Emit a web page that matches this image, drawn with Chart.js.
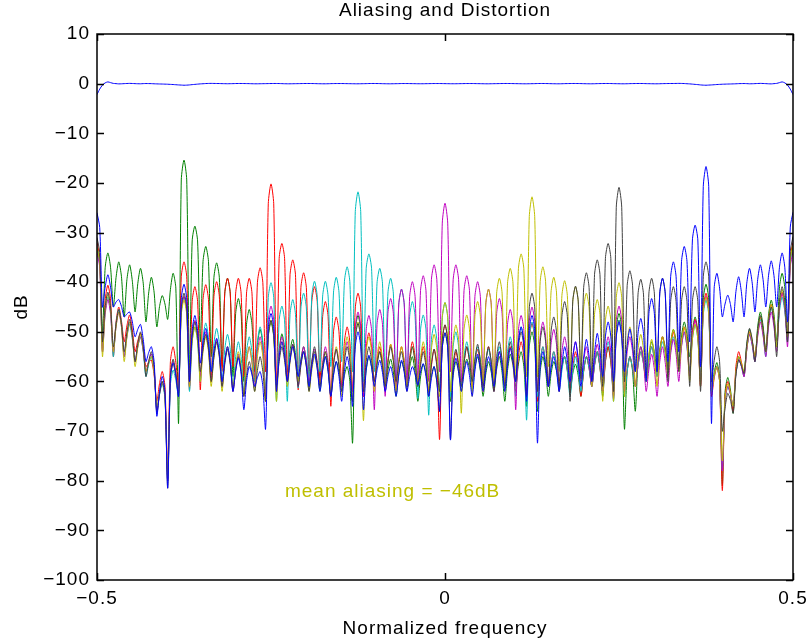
<!DOCTYPE html>
<html>
<head>
<meta charset="utf-8">
<title>Aliasing and Distortion</title>
<script src="https://cdn.jsdelivr.net/npm/chart.js@4.4.0/dist/chart.umd.min.js"></script>
<style>
  html, body { margin: 0; padding: 0; background: #fff; }
  #wrap { width: 810px; height: 644px; }
</style>
</head>
<body>
<div id="wrap"><canvas id="chart"></canvas></div>
<script>
// normalized frequency grid, -0.5 .. 0.5 in 1/256 steps
const freq = [
  -0.5, -0.49609, -0.49219, -0.48828, -0.48438, -0.48047, -0.47656, -0.47266, -0.46875, -0.46484, -0.46094, -0.45703, -0.45313, -0.44922, -0.44531, -0.44141,
  -0.4375, -0.43359, -0.42969, -0.42578, -0.42188, -0.41797, -0.41406, -0.41016, -0.40625, -0.40234, -0.39844, -0.39453, -0.39063, -0.38672, -0.38281, -0.37891,
  -0.375, -0.37109, -0.36719, -0.36328, -0.35938, -0.35547, -0.35156, -0.34766, -0.34375, -0.33984, -0.33594, -0.33203, -0.32813, -0.32422, -0.32031, -0.31641,
  -0.3125, -0.30859, -0.30469, -0.30078, -0.29688, -0.29297, -0.28906, -0.28516, -0.28125, -0.27734, -0.27344, -0.26953, -0.26563, -0.26172, -0.25781, -0.25391,
  -0.25, -0.24609, -0.24219, -0.23828, -0.23438, -0.23047, -0.22656, -0.22266, -0.21875, -0.21484, -0.21094, -0.20703, -0.20313, -0.19922, -0.19531, -0.19141,
  -0.1875, -0.18359, -0.17969, -0.17578, -0.17188, -0.16797, -0.16406, -0.16016, -0.15625, -0.15234, -0.14844, -0.14453, -0.14063, -0.13672, -0.13281, -0.12891,
  -0.125, -0.12109, -0.11719, -0.11328, -0.10938, -0.10547, -0.10156, -0.09766, -0.09375, -0.08984, -0.08594, -0.08203, -0.07813, -0.07422, -0.07031, -0.06641,
  -0.0625, -0.05859, -0.05469, -0.05078, -0.04688, -0.04297, -0.03906, -0.03516, -0.03125, -0.02734, -0.02344, -0.01953, -0.01563, -0.01172, -0.00781, -0.00391,
  0, 0.00391, 0.00781, 0.01172, 0.01563, 0.01953, 0.02344, 0.02734, 0.03125, 0.03516, 0.03906, 0.04297, 0.04688, 0.05078, 0.05469, 0.05859,
  0.0625, 0.06641, 0.07031, 0.07422, 0.07813, 0.08203, 0.08594, 0.08984, 0.09375, 0.09766, 0.10156, 0.10547, 0.10938, 0.11328, 0.11719, 0.12109,
  0.125, 0.12891, 0.13281, 0.13672, 0.14063, 0.14453, 0.14844, 0.15234, 0.15625, 0.16016, 0.16406, 0.16797, 0.17188, 0.17578, 0.17969, 0.18359,
  0.1875, 0.19141, 0.19531, 0.19922, 0.20313, 0.20703, 0.21094, 0.21484, 0.21875, 0.22266, 0.22656, 0.23047, 0.23438, 0.23828, 0.24219, 0.24609,
  0.25, 0.25391, 0.25781, 0.26172, 0.26563, 0.26953, 0.27344, 0.27734, 0.28125, 0.28516, 0.28906, 0.29297, 0.29688, 0.30078, 0.30469, 0.30859,
  0.3125, 0.31641, 0.32031, 0.32422, 0.32813, 0.33203, 0.33594, 0.33984, 0.34375, 0.34766, 0.35156, 0.35547, 0.35938, 0.36328, 0.36719, 0.37109,
  0.375, 0.37891, 0.38281, 0.38672, 0.39063, 0.39453, 0.39844, 0.40234, 0.40625, 0.41016, 0.41406, 0.41797, 0.42188, 0.42578, 0.42969, 0.43359,
  0.4375, 0.44141, 0.44531, 0.44922, 0.45313, 0.45703, 0.46094, 0.46484, 0.46875, 0.47266, 0.47656, 0.48047, 0.48438, 0.48828, 0.49219, 0.49609,
  0.5
];

// overall response (dB)
const passband = [
  -2.2, -1.1, -0.3, 0.15, 0.35, 0.2, 0.05, 0, -0.05, -0.03, 0, 0.03, 0.05, 0.03, 0, -0.02, -0.03, 0, 0.02, 0.01, 0, -0.03, -0.05, -0.07, -0.08, -0.1, -0.12, -0.15, -0.18, -0.22, -0.26, -0.29,
  -0.32, -0.3, -0.26, -0.2, -0.15, -0.1, -0.05, -0.02, 0.02, 0.04, 0.05, 0.04, 0.03, 0.02, 0, -0.01, -0.02, -0.01, 0, 0.02, 0.03, 0.03, 0.02, 0.01, 0, -0.02, -0.03, -0.03, -0.02, -0.01, 0, 0.01,
  0.02, 0.03, 0.03, 0.02, 0, -0.02, -0.03, -0.03, -0.02, -0.01, 0, 0.01, 0.02, 0.03, 0.03, 0.02, 0.01, -0.01, -0.02, -0.03, -0.03, -0.02, 0, 0.01, 0.02, 0.02, 0.02, 0.01, 0, -0.01, -0.02, -0.03,
  -0.03, -0.02, -0.01, 0, 0.02, 0.03, 0.03, 0.02, 0.01, -0.01, -0.02, -0.03, -0.03, -0.02, -0.01, 0, 0.02, 0.02, 0.02, 0.01, 0, -0.01, -0.02, -0.02, -0.02, -0.01, 0, 0.01, 0.02, 0.02, 0.02, 0.01,
  0, -0.01, -0.02, -0.02, -0.02, -0.01, 0, 0.01, 0.02, 0.02, 0.02, 0.01, 0, -0.01, -0.02, -0.03, -0.03, -0.02, -0.01, 0, 0.01, 0.02, 0.03, 0.03, 0.02, 0.01, 0, -0.01, -0.02, -0.03, -0.03, -0.02,
  -0.01, 0, 0.02, 0.03, 0.03, 0.02, 0.01, -0.01, -0.02, -0.03, -0.03, -0.02, 0, 0.01, 0.02, 0.03, 0.03, 0.02, 0.01, -0.01, -0.02, -0.03, -0.03, -0.02, 0, 0.01, 0.02, 0.03, 0.03, 0.02, 0, -0.01,
  -0.02, -0.03, -0.03, -0.02, 0, 0.01, 0.02, 0.03, 0.03, 0.02, 0, -0.01, -0.02, -0.03, -0.03, -0.02, 0, 0.01, 0.02, 0.03, 0.03, 0.04, 0.05, 0.04, 0.02, -0.02, -0.05, -0.1, -0.15, -0.2, -0.26, -0.3,
  -0.32, -0.29, -0.26, -0.22, -0.18, -0.15, -0.12, -0.1, -0.08, -0.07, -0.05, -0.03, 0, 0.01, 0.02, 0, -0.03, -0.02, 0, 0.03, 0.05, 0.03, 0, -0.03, -0.05, 0, 0.05, 0.2, 0.35, 0.15, -0.3, -1.1,
  -2.2
];

// aliasing terms (dB), one per image band
const aliasGreen = [
  -33, -36, -50, -37.1, -34.1, -37.1, -45, -39.1, -35.9, -38.9, -47, -39.5, -36.5, -39.8, -46, -40.3, -37.2, -40.2, -48, -42.2, -39, -42, -49, -44.9, -42.7, -44.4, -47.5, -41.5, -38.2, -41.2, -68.4, -19.4,
  -15.4, -19.4, -58, -31.7, -28.7, -31.7, -52, -35.8, -32.8, -35.8, -55, -39.1, -36.1, -39.1, -57, -42.2, -39.2, -42.2, -59, -46.3, -43.3, -46.3, -60, -48.5, -45.5, -48.5, -58, -52.5, -49.5, -52.5, -62, -51,
  -48, -51, -60, -53.7, -50.4, -53.1, -58, -53.8, -51.5, -54.5, -60, -55.5, -53, -55.8, -61, -56.5, -54, -56.8, -62, -57.5, -55, -57.8, -63, -58.5, -56, -58.1, -62, -58.8, -57, -60, -72.4, -49.7,
  -46.7, -49.7, -63, -57.8, -55, -57.1, -61, -56.5, -54, -56.8, -62, -57.8, -55.5, -58.1, -63, -58.5, -56, -57.8, -61, -57.1, -55, -58.2, -64, -59.1, -56.5, -58.4, -62, -58.8, -57, -60.2, -66, -53.2,
  -50.2, -53.2, -64, -58.8, -56, -58.1, -62, -57.8, -55.5, -57.4, -61, -57.1, -55, -57.8, -63, -58.5, -56, -58.1, -62, -57.5, -55, -58.2, -64, -57.8, -54.5, -56.8, -61, -56.5, -54, -57, -65, -53,
  -50, -53, -66, -58, -55, -57.8, -63, -58.5, -56, -57.8, -61, -57.1, -55, -57.5, -62, -58.4, -56.5, -58.8, -63, -57.8, -55, -57.1, -61, -56.5, -54, -57.2, -63, -56, -53, -56.2, -62, -49.3,
  -46.3, -49.3, -69.6, -58, -55, -58, -66, -56, -53, -55.5, -60, -54.8, -52, -54.1, -58, -53.5, -51, -53.1, -57, -52.1, -49.5, -51.8, -56, -50.8, -48, -50.5, -55, -49.8, -47, -50, -60, -43.4,
  -40.4, -43.4, -62, -58.2, -56.2, -59.2, -81, -62.2, -59.2, -61.7, -66.4, -58, -55, -56.4, -58.4, -52.6, -49.5, -51.8, -56, -49, -46, -48.8, -54, -46.6, -43.6, -46.5, -52, -41.2, -38.2, -41.2, -51, -35.2,
  -32.2
];

const aliasRed = [
  -32, -35, -54, -43.6, -40.6, -43.6, -55, -48, -45, -47.8, -52, -48.8, -46.6, -49.6, -54, -51.8, -50.3, -53, -57, -56.2, -55.7, -58.7, -64, -60.4, -58, -61, -78, -56, -53, -56.2, -61, -38.9,
  -35.9, -38.9, -61.7, -43.9, -40.9, -43.9, -61.7, -43.5, -40.5, -43.5, -60, -42.9, -39.9, -42.9, -58, -42.2, -39.2, -42.2, -57, -42.2, -39.2, -42.2, -59, -42.2, -39.2, -42.2, -60, -40.1, -37.1, -40.1, -58, -24.2,
  -20.2, -24.2, -62, -35.2, -32.2, -35.2, -60, -38.5, -35.5, -38.5, -61.7, -41.1, -38.1, -41.1, -59, -43.9, -40.9, -43.9, -60, -46.9, -43.9, -46.9, -65, -50, -47, -50, -61, -52, -49, -52, -62, -45.2,
  -42.2, -45.2, -63, -53.2, -50.2, -53.2, -60, -55.8, -53, -56.2, -61, -55.9, -52.5, -55.5, -62, -56, -53, -55.8, -60, -55.2, -52, -55, -61, -56, -53, -56, -62, -56.9, -53.5, -56.5, -71.7, -51.6,
  -48.6, -51.6, -62, -57.2, -54, -56.8, -61, -56.2, -53, -55.8, -60, -56.1, -53.5, -56.5, -62, -56, -53, -56.2, -61, -56.8, -54, -56.4, -60, -55.8, -53, -56, -62, -55, -52, -55, -63, -51.3,
  -48.3, -51.3, -64, -56, -53, -56.2, -61, -56.8, -54, -56.4, -60, -57, -55, -57.8, -62, -57.2, -54, -57, -63, -58, -55, -57.4, -61, -56.8, -54, -57.2, -62, -56, -53, -56, -63, -50.7,
  -47.7, -50.7, -62, -57.8, -55, -57.4, -61, -56.8, -54, -56.4, -60, -55.8, -53, -55.4, -59, -54.2, -51, -53.8, -58, -53.2, -50, -52.8, -57, -52.2, -49, -52, -58, -50.5, -47.5, -50.5, -61, -45.2,
  -42.2, -45.2, -63, -59.4, -57, -60, -82, -63, -60, -62.4, -66, -57, -54, -56, -59, -53.6, -50, -52, -55, -50.2, -47, -49.8, -54, -47.5, -44.5, -47.5, -53, -45, -42, -45.6, -51, -35,
  -32
];

const aliasCyan = [
  -33, -36, -54, -46, -43, -46, -55, -48.5, -45.5, -48.5, -55, -51.1, -48.5, -51.5, -56, -53, -51, -54, -59, -56.6, -55, -58, -66, -62.7, -60.5, -63.5, -80, -60.7, -57.7, -59.8, -63, -46,
  -43, -46, -62, -52, -49, -52, -60, -51.2, -48.2, -51.2, -58, -52.3, -49.3, -52.3, -60, -53.5, -50.5, -53.5, -61, -55, -52, -55, -62, -54, -51, -54, -60, -52, -49, -52, -63, -43.1,
  -40.1, -43.1, -64, -47.8, -44.8, -47.8, -64, -46.5, -43.5, -46.5, -61.3, -45.2, -42.2, -45.2, -61.3, -42.8, -39.8, -42.8, -58, -42.8, -39.8, -42.8, -57, -42, -39, -42, -56, -39.9, -36.9, -39.9, -58, -25.8,
  -21.8, -25.8, -60, -37.3, -34.3, -37.3, -58, -40.2, -37.2, -40.2, -60, -42.2, -39.2, -42.2, -62, -44.4, -41.4, -44.4, -61, -46.9, -43.9, -46.9, -63.4, -49.6, -46.6, -49.6, -66.8, -51.6, -48.6, -51.6, -62, -47.1,
  -44.1, -47.1, -63, -53, -50, -53, -61, -55, -52, -55, -62, -55.8, -53, -55.5, -60, -55.8, -53.5, -56.1, -61, -55.8, -53, -56, -62, -54, -51, -54, -63, -52, -49, -52, -67.8, -51,
  -48, -51, -63, -56, -53, -56.2, -61, -56.8, -54, -57, -62, -57.8, -55, -58, -63, -58, -55, -57.8, -62, -57.8, -55, -57.4, -61, -56.8, -54, -57, -62, -55, -52, -55, -64, -50.6,
  -47.6, -50.6, -63, -58, -55, -57.4, -61, -56.8, -54, -56.4, -60, -55.8, -53, -55.4, -59, -54.8, -52, -54.4, -58, -53.8, -51, -53.4, -57, -52.8, -50, -53, -58, -51.5, -48.5, -51.5, -60, -46.6,
  -43.6, -46.6, -62, -59, -57, -60, -78, -64, -61, -62.6, -65, -58.5, -55.5, -56.9, -59, -53.5, -50.5, -52.7, -56, -50.5, -47.5, -50.5, -55, -48, -45, -48, -53, -46, -43, -46, -52, -36,
  -33
];

const aliasMagenta = [
  -34, -37, -54, -46.5, -43.5, -46.5, -54, -49, -46, -49, -55, -50.8, -48, -51, -56, -53, -51, -53.8, -58, -55.9, -54.5, -57.5, -66, -62.4, -60, -63, -80, -59, -56, -58.4, -62, -45.8,
  -42.8, -45.8, -61, -50.7, -47.7, -50.7, -59, -53, -50, -53, -60, -54.5, -51.5, -54.5, -61, -56, -53, -56, -62, -57.5, -54.5, -57.5, -63, -56, -53, -56.2, -61, -54, -51, -54, -63, -47.8,
  -44.8, -47.8, -62, -54, -51, -54, -60, -55.5, -52.5, -55.5, -61, -56.2, -53, -55.8, -60, -56.1, -53.5, -56.5, -61, -56.2, -53, -56, -62, -56.5, -53.5, -56.5, -61, -55, -52, -55, -62, -49,
  -46, -49, -63, -49.7, -46.7, -49.7, -65.7, -48.5, -45.5, -48.5, -63, -46.3, -43.3, -46.3, -62, -44.4, -41.4, -44.4, -61, -42.9, -39.9, -42.9, -60, -41.7, -38.7, -41.7, -60, -39.5, -36.5, -39.5, -58, -28.1,
  -24.1, -28.1, -58, -39.5, -36.5, -39.5, -60, -41.7, -38.7, -41.7, -61, -42.9, -39.9, -42.9, -60, -44.4, -41.4, -44.4, -62, -46.3, -43.3, -46.3, -61, -48.5, -45.5, -48.5, -65.7, -49.7, -46.7, -49.7, -63, -48,
  -45, -48, -62, -51, -48, -51, -61, -52.5, -49.5, -52.5, -62, -54, -51, -54, -61, -55, -52, -55.2, -60, -55.8, -53, -56.2, -61, -55.5, -52.5, -55.5, -62, -54, -51, -54, -63.5, -47.8,
  -44.8, -47.8, -62, -54, -51, -54, -61, -56, -53, -56, -62, -57.5, -54.5, -57.5, -63, -56, -53, -56.2, -61, -54.5, -51.5, -54.5, -60, -53, -50, -53, -59, -50.7, -47.7, -50.7, -61, -45.8,
  -42.8, -45.8, -62, -59, -57, -60, -78, -64, -61, -62.6, -65, -58.5, -55.5, -56.9, -59, -53.5, -50.5, -52.7, -56, -51, -48, -50.8, -55, -49, -46, -49, -54, -45.2, -42.2, -45.2, -53, -36.9,
  -33.9
];

const aliasYellow = [
  -33, -36, -55, -45.5, -42.5, -45.5, -54, -49, -46, -49, -56, -51, -48, -51, -57, -53.1, -50.5, -53.5, -58, -56.2, -55, -58, -65, -62, -60, -63, -79, -59.5, -56.5, -58.7, -62, -46.6,
  -43.6, -46.6, -61, -52, -49, -52, -60, -54, -51, -54, -61, -55, -52, -55, -62, -56, -53, -56.2, -61, -56.8, -54, -57, -63, -56, -53, -56, -62, -55, -52, -55, -64, -50.6,
  -47.6, -50.6, -64, -55, -52, -55, -61, -56.2, -53, -55.8, -60, -56.4, -54, -57, -62, -57.8, -55, -57.4, -61, -56.8, -54, -57, -62, -56, -53, -56, -63, -54, -51, -54, -64, -51,
  -48, -51, -67.9, -54, -51, -54, -62, -55, -52, -55.4, -61, -55.9, -52.5, -55.5, -62, -56, -53, -56.2, -61, -56.2, -53, -55.8, -60, -55.2, -52, -55, -62, -53.5, -50.5, -53.5, -63, -47.1,
  -44.1, -47.1, -62, -51.6, -48.6, -51.6, -66.4, -49.6, -46.6, -49.6, -63, -46.9, -43.9, -46.9, -62, -44.4, -41.4, -44.4, -61, -42.2, -39.2, -42.2, -62, -40.2, -37.2, -40.2, -60, -37.3, -34.3, -37.3, -59, -26.8,
  -22.8, -26.8, -59, -39.9, -36.9, -39.9, -57, -42, -39, -42, -58, -42.7, -39.7, -42.7, -59, -43.9, -40.9, -43.9, -60, -45.2, -42.2, -45.2, -61, -46.5, -43.5, -46.5, -64, -47.8, -44.8, -47.8, -64, -43.1,
  -40.1, -43.1, -63, -52, -49, -52, -61, -53.5, -50.5, -53.5, -60, -54.5, -51.5, -54.5, -61, -54, -51, -54, -59, -52.5, -49.5, -52.5, -58, -52, -49, -52, -60, -51.5, -48.5, -51.5, -61, -46,
  -43, -46, -62, -59, -57, -60, -76, -63.5, -60.5, -62.3, -65, -58, -55, -56.2, -58, -53.2, -50, -52, -55, -50.2, -47, -49.8, -54, -47.5, -44.5, -47.5, -53, -44.5, -41.5, -44.5, -51, -35.5,
  -32.5
];

const aliasBlack = [
  -31, -34, -52, -45, -42, -45, -53, -48.5, -45.5, -48.5, -54, -50.1, -47.5, -50.5, -56, -52.4, -50, -53, -59, -56, -54, -57, -66.5, -62.6, -60, -63, -81.5, -58.5, -55.5, -58.5, -63, -45.2,
  -42.2, -45.2, -60, -51, -48, -51, -58, -53.5, -50.5, -53.5, -60, -55.2, -52, -55, -61, -56.5, -53.5, -56.5, -62, -57.8, -55, -58, -63, -58.8, -56, -58.4, -62, -57.8, -55, -58, -64, -50.7,
  -47.7, -50.7, -61, -56, -53, -55.8, -60, -55.5, -52.5, -55.9, -61, -56.8, -54, -57, -62, -56, -53, -56.2, -61, -56.8, -54, -57, -63, -56.5, -53.5, -56.9, -62, -56, -53, -56, -64, -51.3,
  -48.3, -51.3, -62, -56, -53, -55.8, -60, -56.4, -54, -56.8, -61, -56.2, -53, -55.8, -60, -56.4, -54, -57, -62, -56, -53, -56.2, -61, -56.8, -54, -57, -63, -56.5, -53.5, -56.9, -62, -51.6,
  -48.6, -51.6, -71.7, -56.5, -53.5, -56.5, -61, -56.2, -53, -55.8, -60, -55.5, -52.5, -55.9, -61, -56.2, -53, -56, -62, -55, -52, -55.6, -61, -55.6, -52, -55.2, -60, -53, -50, -53, -63, -45.2,
  -42.2, -45.2, -62, -52, -49, -52, -61, -50, -47, -50, -62, -46.9, -43.9, -46.9, -64, -43.8, -40.8, -43.8, -59.4, -41.1, -38.1, -41.1, -60, -38.5, -35.5, -38.5, -61, -35.2, -32.2, -35.2, -62, -24.9,
  -20.9, -24.9, -60, -40.7, -37.7, -40.7, -58, -42.4, -39.4, -42.4, -59, -42.2, -39.2, -42.2, -58, -42.2, -39.2, -42.2, -60, -43.9, -40.9, -43.9, -58, -43.9, -40.9, -43.9, -61, -43.9, -40.9, -43.9, -62, -38.9,
  -35.9, -38.9, -60, -55.8, -53, -56, -70, -65.4, -62.4, -63.8, -66.4, -58.7, -55.7, -56.8, -58.4, -52.3, -49.3, -51.6, -56, -49.7, -46.7, -49.5, -54, -48, -45, -48, -55, -43.9, -40.9, -43.9, -52, -33.8,
  -30.8
];

const aliasBlue = [
  -26, -29, -45, -41, -38.5, -41, -45, -44, -43.5, -44.9, -47, -46.4, -46, -48, -51, -49.5, -48.5, -51.5, -56, -54.2, -53, -56, -67, -62, -59, -62, -81.5, -59.3, -56.3, -58.9, -63, -43.4,
  -40.4, -43.4, -60, -49.7, -46.7, -49.7, -56.3, -52, -49.3, -52.3, -58, -53.9, -51.3, -54.3, -60, -55.8, -53, -56, -62, -57.9, -55.3, -58.3, -65.7, -60, -57, -58.6, -61, -59.2, -58, -61, -69.6, -49.3,
  -46.3, -49.3, -62, -55, -52, -54.8, -60, -55.8, -53, -55.4, -59, -56, -54, -56.8, -61, -57.1, -54.5, -57.5, -62, -57.8, -55, -58, -63, -58.8, -56, -59, -64, -58, -55, -58, -65, -53,
  -50, -53, -65.7, -57.7, -54.7, -57.2, -61, -57.8, -55.7, -58.2, -62, -59, -57, -59.4, -63, -58.6, -55.7, -58.2, -62, -59, -57, -58.5, -60.7, -58.1, -56.4, -59, -63, -59.4, -57, -60, -66, -53.2,
  -50.2, -53.2, -71.8, -58.3, -55.3, -58, -62, -58.4, -56, -58.8, -63, -57.9, -54.5, -57.5, -62, -57.8, -55, -57.4, -61, -56.8, -54, -57, -62, -56.8, -53.3, -56, -60, -52, -49, -52, -64, -49.7,
  -46.7, -49.7, -72.4, -57, -54, -56.8, -61, -57.4, -55, -57.8, -62, -56.6, -53, -55.8, -60, -55.2, -52, -55.6, -61, -55.3, -51.5, -54.9, -60, -54.2, -50.3, -53.8, -59, -51, -48, -51, -60, -51,
  -48, -51, -58, -52.8, -49.4, -52.8, -58, -50.3, -47.3, -50.3, -60, -46.3, -43.3, -46.3, -58, -42.2, -39.2, -42.2, -56, -38.9, -35.9, -38.9, -54, -35.8, -32.8, -35.8, -52, -31.5, -28.5, -31.5, -57, -20.7,
  -16.7, -20.7, -68.4, -41.2, -38.2, -41.2, -47, -44.4, -42.6, -44.5, -48, -41.9, -38.9, -41.9, -47, -40.2, -37.2, -40.2, -46, -39.5, -36.5, -39.5, -45, -38.7, -35.7, -38.7, -45, -37.1, -34.1, -37.1, -48, -28.9,
  -25.9
];

const xTickValues = [-0.5, 0, 0.5];
const yTickValues = [10, 0, -10, -20, -30, -40, -50, -60, -70, -80, -90, -100];

const meanAliasing = -46;
const notePos = [-0.23, -82.3];

const FONT = '"Liberation Sans", Arial, Helvetica, sans-serif';
const fmt = v => String(v).replace('-', '\u2212');

// box with inward tick marks on all four sides, plus the text note
const axesBox = {
  id: 'axesBox',
  beforeUpdate(chart) { chart.ctx.letterSpacing = '1px'; },
  beforeDraw(chart) { chart.ctx.letterSpacing = '1px'; },
  afterDatasetsDraw(chart) {
    const { ctx, chartArea: a, scales: { x, y } } = chart;
    const len = 7;
    ctx.save();
    ctx.strokeStyle = '#000';
    ctx.lineWidth = 1.5;
    ctx.beginPath();
    ctx.rect(a.left, a.top, a.right - a.left, a.bottom - a.top);
    yTickValues.forEach(v => {
      const py = Math.round(y.getPixelForValue(v)) + 0.5;
      ctx.moveTo(a.left, py); ctx.lineTo(a.left + len, py);
      ctx.moveTo(a.right, py); ctx.lineTo(a.right - len, py);
    });
    xTickValues.forEach(v => {
      const px = Math.round(x.getPixelForValue(v)) + 0.5;
      ctx.moveTo(px, a.bottom); ctx.lineTo(px, a.bottom - len);
      ctx.moveTo(px, a.top); ctx.lineTo(px, a.top + len);
    });
    ctx.stroke();

    ctx.fillStyle = '#bfbf00';
    ctx.font = '19px ' + FONT;
    ctx.textAlign = 'left';
    ctx.textBaseline = 'middle';
    ctx.fillText('mean aliasing = ' + fmt(meanAliasing) + 'dB',
      x.getPixelForValue(notePos[0]), y.getPixelForValue(notePos[1]));
    ctx.restore();
  }
};

const bands = [
  { data: aliasGreen, color: '#008000' },
  { data: aliasRed, color: '#ff0000' },
  { data: aliasCyan, color: '#00bfbf' },
  { data: aliasMagenta, color: '#bf00bf' },
  { data: aliasYellow, color: '#bfbf00' },
  { data: aliasBlack, color: '#404040' },
  { data: aliasBlue, color: '#0000ff' }
];

// later bands sit on top, as they were plotted last
const datasets = [{ data: passband, borderColor: '#0000ff', order: 10 }];
bands.forEach((b, i) => {
  datasets.push({ data: b.data, borderColor: b.color, order: bands.length - i });
});

Chart.defaults.font.family = FONT;
Chart.defaults.font.size = 19;
Chart.defaults.color = '#000';

new Chart(document.getElementById('chart'), {
  type: 'line',
  data: { labels: freq, datasets: datasets },
  options: {
    responsive: true,
    maintainAspectRatio: false,
    animation: false,
    layout: { padding: { left: 0, right: 17, top: 0, bottom: 0 } },
    elements: {
      line: { borderWidth: 1, tension: 0.25 },
      point: { radius: 0 }
    },
    plugins: {
      legend: { display: false },
      tooltip: { enabled: false },
      title: {
        display: true,
        fullSize: false,
        text: 'Aliasing and Distortion',
        font: { size: 19, weight: 'normal', lineHeight: 1 },
        padding: { top: 1, bottom: 14 }
      }
    },
    scales: {
      x: {
        type: 'linear',
        min: -0.5,
        max: 0.5,
        grid: { display: false, drawTicks: false },
        border: { display: false },
        afterBuildTicks: s => { s.ticks = xTickValues.map(v => ({ value: v })); },
        afterFit: s => { s.height = 64; s.paddingLeft = 0; s.paddingRight = 0; },
        ticks: { padding: 7, maxRotation: 0, callback: v => fmt(v) },
        title: { display: true, text: 'Normalized frequency', padding: { top: 0, bottom: 4 } }
      },
      y: {
        min: -100,
        max: 10,
        grid: { display: false, drawTicks: false },
        border: { display: false },
        afterBuildTicks: s => { s.ticks = yTickValues.map(v => ({ value: v })); },
        afterFit: s => { s.width = 97; },
        ticks: { padding: 7, callback: v => fmt(v) },
        title: { display: true, text: 'dB', padding: { top: 10, bottom: 10 } }
      }
    }
  },
  plugins: [axesBox]
});
</script>
</body>
</html>
